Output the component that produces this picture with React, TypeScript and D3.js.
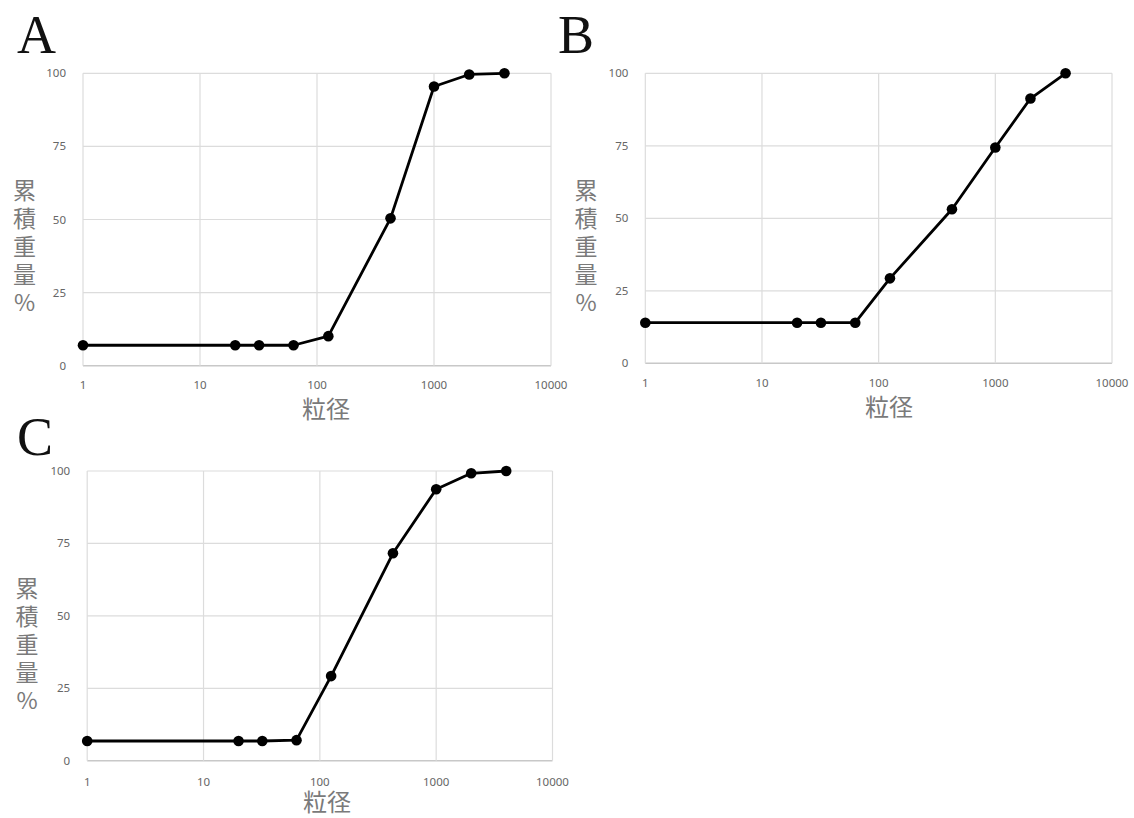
import React from "react";
import * as d3 from "d3";

// Sieve sizes (particle diameter) shared by all three samples
const sizes = [1, 20, 32, 63, 125, 425, 1000, 2000, 4000];

// Cumulative weight % passing for each sample
const sampleA = [7, 7, 7, 7, 10.1, 50.4, 95.5, 99.6, 100];
const sampleB = [14, 14, 14, 14, 29.3, 53.1, 74.4, 91.3, 100];
const sampleC = [6.8, 6.8, 6.8, 7.1, 29.2, 71.6, 93.7, 99.2, 100];

const panelLetters = ["A", "B", "C"];
const xTicks = [1, 10, 100, 1000, 10000];
const yTicks = [0, 25, 50, 75, 100];
const yLabelChars = ["累", "積", "重", "量", "%"];
const xLabel = "粒径";

// Plot frames for each panel
const frames = [
  { left: 83, right: 551, top: 73.3, bottom: 365.7, letterX: 17, letterY: 53, yLabelX: 24.5, xTickY: 389, xLabelY: 418, xLabelX: 326 },
  { left: 645.3, right: 1112, top: 73.3, bottom: 363.3, letterX: 558, letterY: 53, yLabelX: 586, xTickY: 387, xLabelY: 416, xLabelX: 889 },
  { left: 87.2, right: 552.5, top: 471, bottom: 760.7, letterX: 17, letterY: 455, yLabelX: 27, xTickY: 785.5, xLabelY: 811, xLabelX: 327 },
];

const series = [sampleA, sampleB, sampleC];

const tickFont = "'Noto Sans', 'DejaVu Sans', sans-serif";
const cjkFont = "'Noto Sans CJK JP', 'Noto Sans CJK SC', sans-serif";

function Panel({ idx }: { idx: number }) {
  const f = frames[idx];
  const values = series[idx];
  const x = d3.scaleLog().domain([1, 10000]).range([f.left, f.right]);
  const y = d3.scaleLinear().domain([0, 100]).range([f.bottom, f.top]);
  const pts = sizes.map((s, i) => [s, values[i]] as [number, number]);
  const line = d3
    .line<[number, number]>()
    .x((d) => x(d[0]))
    .y((d) => y(d[1]));

  return (
    <g>
      <text
        x={f.letterX}
        y={f.letterY}
        fontFamily="'Liberation Serif', 'Times New Roman', serif"
        fontSize={54}
        fill="#111"
      >
        {panelLetters[idx]}
      </text>

      {/* grid */}
      {yTicks.map((t) => (
        <line
          key={"gy" + t}
          x1={f.left}
          x2={f.right}
          y1={y(t)}
          y2={y(t)}
          stroke={t === 0 ? "#c8c8c8" : "#dcdcdc"}
          strokeWidth={t === 0 ? 1.6 : 1.2}
        />
      ))}
      {xTicks.map((t) => (
        <line
          key={"gx" + t}
          x1={x(t)}
          x2={x(t)}
          y1={f.top}
          y2={f.bottom}
          stroke="#dcdcdc"
          strokeWidth={1.2}
        />
      ))}

      {/* tick labels */}
      {yTicks.map((t) => (
        <text
          key={"ty" + t}
          x={f.left - 17}
          y={y(t)}
          dy="0.35em"
          textAnchor="end"
          fontFamily={tickFont}
          fontSize={11.5}
          fill="#666"
        >
          {t}
        </text>
      ))}
      {xTicks.map((t) => (
        <text
          key={"tx" + t}
          x={x(t)}
          y={f.xTickY}
          textAnchor="middle"
          fontFamily={tickFont}
          fontSize={11.5}
          fill="#666"
        >
          {t}
        </text>
      ))}

      {/* axis titles: vertical stack of characters */}
      {yLabelChars.map((c, i) => (
        <text
          key={"yl" + i}
          x={f.yLabelX}
          y={f.top + 104 + 14 + i * 28}
          dy="0.35em"
          textAnchor="middle"
          fontFamily={cjkFont}
          fontSize={23}
          fill="#7a7a7a"
        >
          {c}
        </text>
      ))}
      <text
        x={f.xLabelX}
        y={f.xLabelY}
        textAnchor="middle"
        fontFamily={cjkFont}
        fontSize={24}
        fill="#7a7a7a"
      >
        {xLabel}
      </text>

      {/* data */}
      <path d={line(pts) ?? ""} fill="none" stroke="#000" strokeWidth={2.8} strokeLinejoin="round" />
      {pts.map((p, i) => (
        <circle key={"p" + i} cx={x(p[0])} cy={y(p[1])} r={5.3} fill="#000" />
      ))}
    </g>
  );
}

export default function App() {
  return (
    <svg
      width={1134}
      height={818}
      style={{ position: "absolute", left: 0, top: 0, background: "#fff" }}
    >
      <rect width={1134} height={818} fill="#fff" />
      {frames.map((_, i) => (
        <Panel key={i} idx={i} />
      ))}
    </svg>
  );
}
